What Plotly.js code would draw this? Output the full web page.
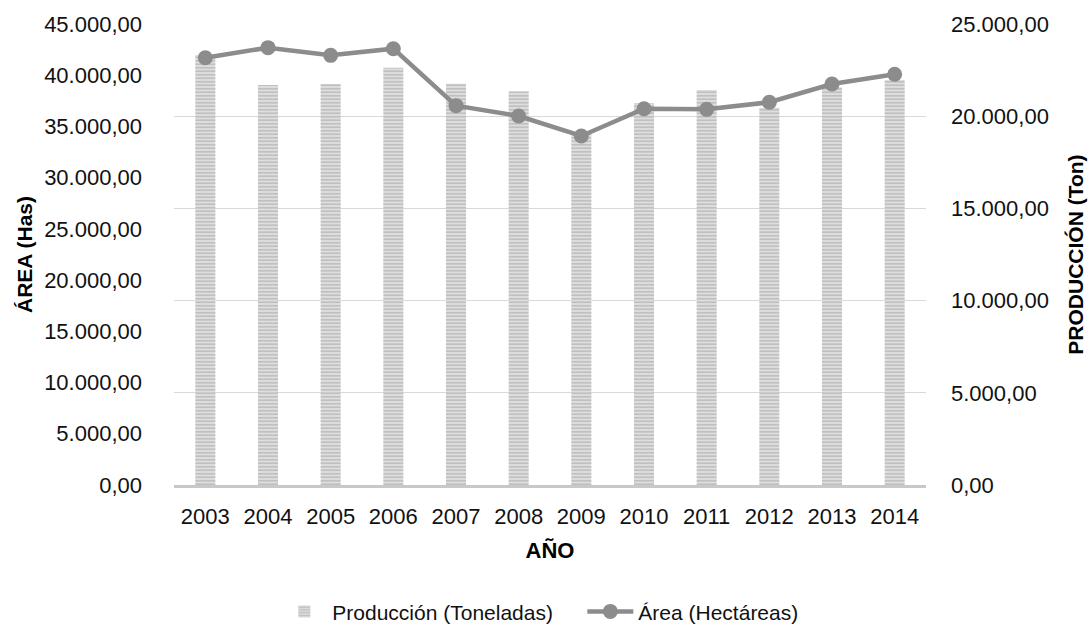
<!DOCTYPE html>
<html>
<head>
<meta charset="utf-8">
<script src="https://cdn.plot.ly/plotly-3.0.1.min.js"></script>
<style>html,body{margin:0;padding:0;background:#fff;}#chart{width:1092px;height:636px;}</style>
</head>
<body>
<div id="chart"></div>
<script>
const years = ["2003","2004","2005","2006","2007","2008","2009","2010","2011","2012","2013","2014"];
const produccion = [23320, 21690, 21750, 22630, 21760, 21350, 19100, 20700, 21420, 20460, 21570, 21960];
const area = [41710, 42690, 41940, 42590, 37030, 36020, 34070, 36730, 36670, 37360, 39140, 40090];
const leftTicks = [0,5000,10000,15000,20000,25000,30000,35000,40000,45000];
const rightTicks = [0,5000,10000,15000,20000,25000];

const FONT = "'Liberation Sans', Arial, sans-serif";
const TXT = '#111';

const traces = [
  {
    type: 'bar', name: 'Producción (Toneladas)', x: years, y: produccion,
    yaxis: 'y',
    marker: {
      color: '#d4d4d4',
      line: {width: 0},
      pattern: {shape: '-', size: 3.5, solidity: 0.45, fgcolor: '#bdbdbd', bgcolor: '#dedede', fillmode: 'replace'}
    },
    hoverinfo: 'skip'
  },
  {
    type: 'scatter', mode: 'lines+markers', name: 'Área (Hectáreas)', x: years, y: area,
    yaxis: 'y2',
    line: {color: '#8c8c8c', width: 4.5},
    marker: {color: '#8c8c8c', size: 15},
    hoverinfo: 'skip'
  }
];

const layout = {
  width: 1092, height: 636,
  margin: {l: 174, r: 166, t: 24, b: 151, autoexpand: false},
  paper_bgcolor: '#fff', plot_bgcolor: '#fff',
  separators: ',.',
  font: {family: FONT, size: 22, color: TXT},
  showlegend: true,
  bargap: 0.68,
  xaxis: {
    type: 'category', range: [-0.5, 11.5], automargin: false,
    showline: true, linecolor: '#c8c8c8', linewidth: 3,
    showgrid: false, ticks: '', ticklabelstandoff: 10,
    tickfont: {family: FONT, size: 22, color: TXT},
    title: {text: 'AÑO', font: {family: FONT, size: 22, color: '#000', weight: 'bold'}, standoff: 15}
  },
  yaxis: {
    side: 'right', range: [0, 25000], tickvals: rightTicks, tickformat: ',.2f', automargin: false,
    showgrid: true, gridcolor: '#d9d9d9', gridwidth: 1, zeroline: false,
    showline: false, ticks: '', ticklabelstandoff: 24,
    tickfont: {family: FONT, size: 22, color: TXT},
    title: {text: 'PRODUCCIÓN (Ton)', font: {family: FONT, size: 21, color: '#000', weight: 'bold'}, standoff: 20}
  },
  yaxis2: {
    side: 'left', overlaying: 'y', range: [0, 45000], tickvals: leftTicks, tickformat: ',.2f', automargin: false,
    showgrid: false, zeroline: false, showline: false, ticks: '', ticklabelstandoff: 31,
    tickfont: {family: FONT, size: 22, color: TXT},
    title: {text: 'ÁREA (Has)', font: {family: FONT, size: 21, color: '#000', weight: 'bold'}, standoff: 5}
  },
  legend: {
    orientation: 'h', x: 0.543, xanchor: 'center', y: -0.275, yanchor: 'middle',
    font: {family: FONT, size: 21, color: TXT},
    itemwidth: 46, entrywidth: 245, tracegroupgap: 0
  }
};

Plotly.newPlot('chart', traces, layout, {displayModeBar: false, staticPlot: true});
</script>
</body>
</html>
